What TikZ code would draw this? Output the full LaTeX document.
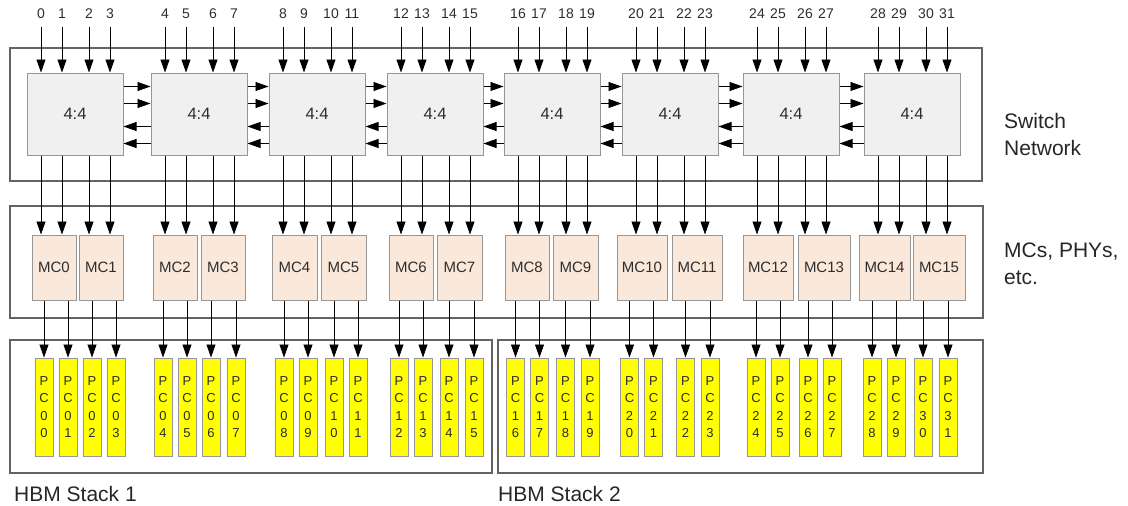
\documentclass[tikz,border=0pt]{standalone}
\usepackage{fontspec}
\setmainfont{Liberation Sans}
\usetikzlibrary{arrows.meta}
\definecolor{swgray}{RGB}{240,240,240}
\definecolor{mcpeach}{RGB}{250,232,218}
\definecolor{pcyellow}{RGB}{255,255,0}
\definecolor{edgegray}{RGB}{150,150,150}
\definecolor{framegray}{RGB}{100,100,100}
\definecolor{labelgray}{RGB}{45,45,45}

\begin{document}
\begin{tikzpicture}[x=1pt,y=-1pt,
    frame/.style={draw=framegray,line width=1.1pt},
    switchbox/.style={draw=edgegray,fill=swgray,line width=1pt,inner sep=0pt,
        minimum width=96pt,minimum height=82pt,text=labelgray,font=\fontsize{16.5}{18}\selectfont},
    mcbox/.style={draw=edgegray,fill=mcpeach,line width=1pt,inner sep=0pt,
        minimum height=65pt,text=labelgray,font=\fontsize{15}{18}\selectfont},
    pcbox/.style={draw=edgegray,fill=pcyellow,line width=1pt,inner sep=0pt,align=center,
        minimum width=18pt,minimum height=98pt,text=labelgray,font=\fontsize{13}{17.5}\selectfont},
    numlabel/.style={inner xsep=0pt,inner ysep=8pt,text=labelgray,font=\fontsize{14}{16}\selectfont},
    sidelabel/.style={anchor=west,align=left,inner sep=0pt,text=black!85,font=\fontsize{21}{27}\selectfont},
    link/.style={line width=0.8pt,-{Triangle[length=13pt,width=9pt]}}]
        \useasboundingbox (0,0) rectangle (1128,506);

        \draw[frame] (10,48) rectangle (982,181);
        \draw[frame] (10,206) rectangle (983,318);
        \draw[frame] (10,340) rectangle (492,473);
        \draw[frame] (498,340) rectangle (983,473);

        \foreach \b/\l in {0/27,1/151,2/269,3/387,4/504,5/622,6/743,7/864} {
            \node[switchbox] (sw\b) at (\l+48,114) {4:4};
        }
        \foreach \b [evaluate=\b as \c using int(\b+1)] in {0,...,6} {
            \draw[link] ([yshift=-14pt]sw\b.north east) -- ([yshift=-14pt]sw\c.north west);
            \draw[link] ([yshift=-31pt]sw\b.north east) -- ([yshift=-31pt]sw\c.north west);
            \draw[link] ([yshift=-54pt]sw\c.north west) -- ([yshift=-54pt]sw\b.north east);
            \draw[link] ([yshift=-71pt]sw\c.north west) -- ([yshift=-71pt]sw\b.north east);
        }

        \foreach \m/\l/\r in {0/32/76,1/79/123,2/153/197,3/201/245,4/272/317,5/321/366,
                6/389/433,7/437/482,8/505/549,9/553/598,10/617/667,11/672/722,
                12/743/793,13/798/850,14/859/910,15/913/965} {
            \pgfmathsetmacro{\w}{\r-\l}
            \node[mcbox,minimum width=\w pt] (mc\m) at ({(\l+\r)/2},267.5) {MC\m};
        }

        \foreach \b/\l in {0/27,1/151,2/269,3/387,4/504,5/622,6/743,7/864}
            \foreach \k/\o in {0/14,1/35,2/62,3/83} {
                \pgfmathtruncatemacro{\i}{4*\b+\k}
                \pgfmathtruncatemacro{\m}{2*\b+\k/2}
                \node[numlabel] (n\i) at (\l+\o,14) {\i};
                \draw[link] (n\i.south) -- (n\i.south |- sw\b.north);
                \draw[link] (n\i |- sw\b.south) -- (n\i |- mc\m.north);
            }

        \foreach \j/\c in {0/44,1/68,2/92,3/116,4/163,5/187,6/211,7/236,
                8/284,9/308,10/334,11/358,12/399,13/423,14/449,15/474,
                16/515.5,17/539.5,18/565.5,19/590,20/629.5,21/653.5,22/685.5,23/710,
                24/756,25/780,26/808,27/832,28/872,29/896,30/923,31/948} {
            \pgfmathtruncatemacro{\tn}{\j/10}
            \pgfmathtruncatemacro{\on}{mod(\j,10)}
            \pgfmathtruncatemacro{\m}{\j/2}
            \node[pcbox] (pc\j) at (\c,407) {P\\C\\\tn\\\on};
            \draw[link] (pc\j.north |- mc\m.south) -- (pc\j.north);
        }

        \node[sidelabel] (swlab) at (1004,134) {Switch\\Network};
        \node[sidelabel] (mclab) at (1004,263.5) {MCs, PHYs,\\etc.};
        \node[sidelabel] (hbm1) at (14,494) {HBM Stack 1};
        \node[sidelabel] (hbm2) at (498,494) {HBM Stack 2};
    \end{tikzpicture}
\end{document}
